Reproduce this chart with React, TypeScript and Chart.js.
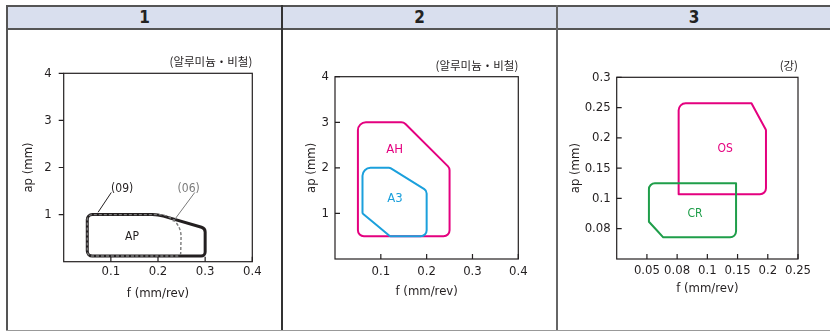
import React, { useEffect, useRef } from 'react';
import { Chart, registerables } from 'chart.js';

Chart.register(...registerables);

const NARROW = '"Liberation Sans Narrow", "DejaVu Sans Condensed", "Liberation Sans", Arial, sans-serif';
const KOREAN = '"Noto Sans CJK KR", "Noto Sans", sans-serif';

// ---------- text ----------
const HEADERS = ['1', '2', '3'];
const SUBTITLES = ['(알루미늄・비철)', '(알루미늄・비철)', '(강)'];
const X_TITLE = 'f (mm/rev)';
const Y_TITLE = 'ap (mm)';

// ---------- axes ----------
const F_TICKS_A = [0.1, 0.2, 0.3, 0.4];
const AP_TICKS_A = [1, 2, 3, 4];
const F_TICKS_B = [0.05, 0.08, 0.1, 0.15, 0.2, 0.25];
const AP_TICKS_B = [0.08, 0.1, 0.15, 0.2, 0.25, 0.3];

// ---------- panel 1 ----------
const AP09_F = [0.05, 0.05, 0.2, 0.3, 0.3];
const AP09_AP = [0.12, 1.0, 1.0, 0.71, 0.12];
const AP06_F = [0.05, 0.05, 0.25, 0.248];
const AP06_AP = [0.12, 1.0, 1.0, 0.12];
const P1_LABELS = ['AP', '(09)', '(06)'];
const P1_LABEL_F = [0.145, 0.124, 0.265];
const P1_LABEL_AP = [0.53, 1.55, 1.55];
const LEAD09_F = [0.101, 0.073];
const LEAD09_AP = [1.47, 1.05];
const LEAD06_F = [0.278, 0.232];
const LEAD06_AP = [1.47, 0.85];

// ---------- panel 2 ----------
const AH_F = [0.05, 0.05, 0.15, 0.25, 0.25];
const AH_AP = [0.5, 3.0, 3.0, 2.0, 0.5];
const A3_F = [0.06, 0.06, 0.12, 0.2, 0.2, 0.12];
const A3_AP = [1.0, 2.0, 2.0, 1.5, 0.5, 0.5];
const P2_LABELS = ['AH', 'A3'];
const P2_LABEL_F = [0.13, 0.131];
const P2_LABEL_AP = [2.39, 1.33];

// ---------- panel 3 ----------
const OS_F = [0.081, 0.081, 0.173, 0.197, 0.197];
const OS_AP = [0.107, 0.257, 0.257, 0.213, 0.107];
const CR_F = [0.052, 0.052, 0.1475, 0.1475, 0.0662];
const CR_AP = [0.0846, 0.125, 0.125, 0.0743, 0.0743];
const P3_LABELS = ['OS', 'CR'];
const P3_LABEL_F = [0.1295, 0.0918];
const P3_LABEL_AP = [0.1825, 0.0897];

// ---------- styles ----------
const INK = '#231f20';
const GRAY = '#7a7a7a';
const MAGENTA = '#e4007f';
const CYAN = '#1ba0dc';
const GREEN = '#1f9e4a';

const identity = (v: number) => v;
// evenly spaced (non-linear) tick axis: ticks[i] sits at position i+1
function evenPos(ticks: number[]) {
  return (v: number) => {
    let i = 1;
    while (i < ticks.length - 1 && v > ticks[i]) i++;
    return i + (v - ticks[i - 1]) / (ticks[i] - ticks[i - 1]);
  };
}

interface Shape { f: number[]; ap: number[]; r: number[]; color: string; width: number; dash?: number[] }
interface Label { text: string; f: number; ap: number; color: string; size: number }
interface Leader { f: number[]; ap: number[]; color: string }
interface PanelCfg {
  left: number; w: number;
  padTop: number; padRight: number; yW: number; xH: number;
  xMax: number; yMax: number;
  xTickPos: number[]; xTickText: string[];
  yTickPos: number[]; yTickText: string[];
  mapX: (v: number) => number; mapY: (v: number) => number;
  shapes: Shape[]; labels: Label[]; leaders: Leader[];
  subtitle: string; yTickOut: boolean;
  yLabelPad: number; xLabelPad: number; yTitlePad: number; xTitlePad: number;
}

const mk = (f: number[], ap: number[], r: number[], color: string, width: number, dash?: number[]): Shape => ({ f, ap, r, color, width, dash });

const PANELS: PanelCfg[] = [
  {
    left: 8, w: 273, padTop: 43.3, padRight: 28.7, yW: 55.7, xH: 67.3,
    xMax: 0.4, yMax: 4,
    xTickPos: F_TICKS_A, xTickText: F_TICKS_A.map(String),
    yTickPos: AP_TICKS_A, yTickText: AP_TICKS_A.map(String),
    mapX: identity, mapY: identity,
    shapes: [
      mk(AP09_F, AP09_AP, [5, 5, 40, 5, 4], INK, 3),
      mk(AP06_F, AP06_AP, [5, 5, 22, 3], GRAY, 1.4, [3, 2]),
    ],
    labels: P1_LABELS.map((t, i) => ({ text: t, f: P1_LABEL_F[i], ap: P1_LABEL_AP[i], color: i === 2 ? GRAY : INK, size: 12 })),
    leaders: [
      { f: LEAD09_F, ap: LEAD09_AP, color: INK },
      { f: LEAD06_F, ap: LEAD06_AP, color: GRAY },
    ],
    subtitle: SUBTITLES[0], yTickOut: true,
    yLabelPad: 12, xLabelPad: 2.2, yTitlePad: 13.2, xTitlePad: 27.9,
  },
  {
    left: 283, w: 273, padTop: 46.7, padRight: 37.7, yW: 52, xH: 70,
    xMax: 0.4, yMax: 4,
    xTickPos: F_TICKS_A, xTickText: F_TICKS_A.map(String),
    yTickPos: AP_TICKS_A, yTickText: AP_TICKS_A.map(String),
    mapX: identity, mapY: identity,
    shapes: [
      mk(AH_F, AH_AP, [6, 8, 6, 6, 6], MAGENTA, 2),
      mk(A3_F, A3_AP, [2, 8, 4, 5, 6, 1], CYAN, 2),
    ],
    labels: P2_LABELS.map((t, i) => ({ text: t, f: P2_LABEL_F[i], ap: P2_LABEL_AP[i], color: i === 0 ? MAGENTA : CYAN, size: 13 })),
    leaders: [],
    subtitle: SUBTITLES[1], yTickOut: false,
    yLabelPad: 6, xLabelPad: 4.9, yTitlePad: 20.9, xTitlePad: 29.5,
  },
  {
    left: 558, w: 272, padTop: 47.3, padRight: 32, yW: 58.7, xH: 70,
    xMax: 6, yMax: 6,
    xTickPos: F_TICKS_B.map((_, i) => i + 1), xTickText: F_TICKS_B.map(String),
    yTickPos: AP_TICKS_B.map((_, i) => i + 1), yTickText: AP_TICKS_B.map(String),
    mapX: evenPos(F_TICKS_B), mapY: evenPos(AP_TICKS_B),
    shapes: [
      mk(OS_F, OS_AP, [0, 7, 0, 2, 6], MAGENTA, 2),
      mk(CR_F, CR_AP, [0, 6, 0, 6, 0], GREEN, 2),
    ],
    labels: P3_LABELS.map((t, i) => ({ text: t, f: P3_LABEL_F[i], ap: P3_LABEL_AP[i], color: i === 0 ? MAGENTA : GREEN, size: 12 })),
    leaders: [],
    subtitle: SUBTITLES[2], yTickOut: false,
    yLabelPad: 6, xLabelPad: 3.9, yTitlePad: 9.9, xTitlePad: 32.9,
  },
];

function roundedPath(ctx: CanvasRenderingContext2D, pts: { x: number; y: number }[], radii: number[]) {
  const n = pts.length;
  const a = pts[n - 1], b = pts[0];
  ctx.beginPath();
  ctx.moveTo((a.x + b.x) / 2, (a.y + b.y) / 2);
  for (let i = 0; i < n; i++) {
    const p = pts[i], q = pts[(i + 1) % n];
    if (radii[i] > 0) ctx.arcTo(p.x, p.y, q.x, q.y, radii[i]);
    else ctx.lineTo(p.x, p.y);
  }
  ctx.closePath();
}

function makeChart(canvas: HTMLCanvasElement, p: PanelCfg) {
  const tickFont = { family: NARROW, size: 13 };
  const decor = {
    id: 'decor',
    beforeDatasetsDraw(chart: any) {
      const { ctx, chartArea: ca, scales } = chart;
      ctx.save();
      ctx.strokeStyle = INK;
      ctx.lineWidth = 1.2;
      ctx.strokeRect(ca.left, ca.top, ca.right - ca.left, ca.bottom - ca.top);
      ctx.beginPath();
      p.xTickPos.forEach((v) => {
        const x = scales.x.getPixelForValue(v);
        ctx.moveTo(x, ca.bottom);
        ctx.lineTo(x, ca.bottom - 5);
      });
      p.yTickPos.forEach((v) => {
        const y = scales.y.getPixelForValue(v);
        ctx.moveTo(ca.left, y);
        ctx.lineTo(p.yTickOut ? ca.left - 5 : ca.left + 5, y);
      });
      ctx.stroke();
      ctx.restore();
    },
    afterDatasetsDraw(chart: any) {
      const { ctx, chartArea: ca, scales } = chart;
      ctx.save();
      p.shapes.forEach((s, i) => {
        const meta = chart.getDatasetMeta(i);
        const pts = meta.data.map((e: any) => ({ x: e.x, y: e.y }));
        roundedPath(ctx, pts, s.r);
        ctx.strokeStyle = s.color;
        ctx.lineWidth = s.width;
        ctx.lineJoin = 'round';
        ctx.setLineDash(s.dash || []);
        ctx.stroke();
      });
      ctx.setLineDash([]);
      p.leaders.forEach((l) => {
        ctx.beginPath();
        ctx.moveTo(scales.x.getPixelForValue(p.mapX(l.f[0])), scales.y.getPixelForValue(p.mapY(l.ap[0])));
        ctx.lineTo(scales.x.getPixelForValue(p.mapX(l.f[1])), scales.y.getPixelForValue(p.mapY(l.ap[1])));
        ctx.strokeStyle = l.color;
        ctx.lineWidth = 1;
        ctx.stroke();
      });
      ctx.textAlign = 'center';
      ctx.textBaseline = 'middle';
      p.labels.forEach((l) => {
        ctx.font = `${l.size}px ${NARROW}`;
        ctx.fillStyle = l.color;
        ctx.fillText(l.text, scales.x.getPixelForValue(p.mapX(l.f)), scales.y.getPixelForValue(p.mapY(l.ap)));
      });
      ctx.font = `11.5px ${KOREAN}`;
      ctx.fillStyle = INK;
      ctx.textAlign = 'right';
      ctx.fillText(p.subtitle, ca.right, ca.top - 11.5);
      ctx.restore();
    },
  };
  return new Chart(canvas, {
    type: 'scatter',
    data: {
      datasets: p.shapes.map((s) => ({
        data: s.f.map((v, i) => ({ x: p.mapX(v), y: p.mapY(s.ap[i]) })),
        pointRadius: 0,
        showLine: false,
        borderColor: s.color,
      })),
    },
    options: {
      responsive: false,
      animation: false,
      devicePixelRatio: 1,
      events: [],
      layout: { padding: { left: 0, top: p.padTop, right: p.padRight, bottom: 0 } },
      plugins: { legend: { display: false }, tooltip: { enabled: false }, title: { display: false } },
      scales: {
        x: {
          type: 'linear', min: 0, max: p.xMax,
          afterBuildTicks: (s: any) => { s.ticks = p.xTickPos.map((v) => ({ value: v })); },
          ticks: { callback: (_v: any, i: number) => p.xTickText[i], font: tickFont, color: INK, padding: p.xLabelPad, maxRotation: 0, autoSkip: false },
          grid: { display: false, drawTicks: false },
          border: { display: false },
          title: { display: true, text: X_TITLE, font: tickFont, color: INK, padding: { top: 0, bottom: p.xTitlePad } },
          afterFit: (s: any) => { s.height = p.xH; },
        },
        y: {
          type: 'linear', min: 0, max: p.yMax,
          afterBuildTicks: (s: any) => { s.ticks = p.yTickPos.map((v) => ({ value: v })); },
          ticks: { callback: (_v: any, i: number) => p.yTickText[i], font: tickFont, color: INK, padding: p.yLabelPad, autoSkip: false },
          grid: { display: false, drawTicks: false },
          border: { display: false },
          title: { display: true, text: Y_TITLE, font: tickFont, color: INK, padding: { top: p.yTitlePad, bottom: 0 } },
          afterFit: (s: any) => { s.width = p.yW; },
        },
      },
    } as any,
    plugins: [decor],
  });
}

function Panel({ cfg }: { cfg: PanelCfg }) {
  const ref = useRef<HTMLCanvasElement>(null);
  useEffect(() => {
    const chart = makeChart(ref.current as HTMLCanvasElement, cfg);
    return () => chart.destroy();
  }, [cfg]);
  return (
    <canvas
      ref={ref}
      width={cfg.w}
      height={299}
      style={{ position: 'absolute', left: cfg.left, top: 30, width: cfg.w, height: 299 }}
    />
  );
}

const COLS = [
  { left: 8, right: 281 },
  { left: 283, right: 556 },
  { left: 558, right: 830 },
];

export default function App() {
  const line = (s: React.CSSProperties) => <div style={{ position: 'absolute', ...s }} />;
  return (
    <div style={{ position: 'absolute', left: 0, top: 0, width: 830, height: 331, background: '#fff', overflow: 'hidden' }}>
      <div style={{ position: 'absolute', left: 7, top: 6, width: 823, height: 23, background: '#d9dfee' }} />
      {HEADERS.map((h, i) => (
        <div
          key={h}
          style={{
            position: 'absolute', left: COLS[i].left, width: COLS[i].right - COLS[i].left, top: 7, height: 21,
            lineHeight: '21px', textAlign: 'center', fontFamily: NARROW, fontWeight: 'bold', fontSize: 17, color: '#222',
          }}
        >
          {h}
        </div>
      ))}
      {line({ left: 6, top: 5, width: 824, height: 2, background: '#555' })}
      {line({ left: 6, top: 28, width: 824, height: 2, background: '#555' })}
      {line({ left: 6, top: 5, width: 2, height: 326, background: '#555' })}
      {line({ left: 281, top: 5, width: 2, height: 325, background: '#333' })}
      {line({ left: 556, top: 5, width: 2, height: 325, background: '#666' })}
      {line({ left: 6, top: 330, width: 824, height: 1, background: '#999' })}
      {PANELS.map((p, i) => <Panel key={i} cfg={p} />)}
    </div>
  );
}
